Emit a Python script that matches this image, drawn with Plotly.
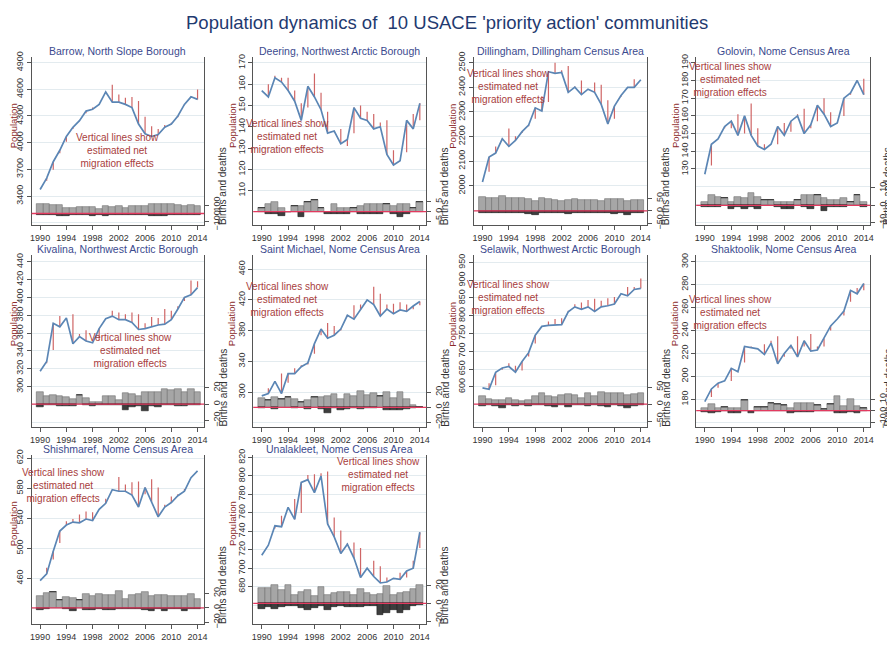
import plotly.graph_objects as go

years = [1990, 1991, 1992, 1993, 1994, 1995, 1996, 1997, 1998, 1999, 2000, 2001, 2002,
         2003, 2004, 2005, 2006, 2007, 2008, 2009, 2010, 2011, 2012, 2013, 2014]
year_ticks = [1990, 1994, 1998, 2002, 2006, 2010, 2014]

names = ["Barrow, North Slope Borough", "Deering, Northwest Arctic Borough",
         "Dillingham, Dillingham Census Area", "Golovin, Nome Census Area",
         "Kivalina, Northwest Arctic Borough", "Saint Michael, Nome Census Area",
         "Selawik, Northwest Arctic Borough", "Shaktoolik, Nome Census Area",
         "Shishmaref, Nome Census Area", "Unalakleet, Nome Census Area"]

# population, estimated net migration, births, deaths (negative)
barrow_pop = [3474, 3602, 3786, 3915, 4070, 4173, 4247, 4355, 4375, 4430, 4570, 4456, 4456,
              4430, 4394, 4210, 4100, 4070, 4092, 4173, 4210, 4300, 4430, 4515, 4486]
barrow_mig = [0, 30, 90, 35, 60, 20, 5, 25, -20, 0, 15, -195, -85, -75, -118, -258, -190,
              -115, -63, -25, -15, 15, 10, 5, -110]
barrow_births = [120, 112, 100, 100, 72, 72, 80, 80, 80, 60, 88, 80, 96, 72, 96, 96, 96, 112,
                 112, 112, 112, 100, 96, 104, 92]
barrow_deaths = [-20, -20, -20, -30, -30, -20, -20, -20, -30, -20, -30, -20, -20, -20, -20, -20,
                 -20, -30, -30, -30, -20, -20, -20, -20, -20]

deering_pop = [157, 154, 163, 161, 157, 152, 143, 159, 154, 148, 137, 138, 132, 134, 149, 144,
               143, 139, 140, 127, 122, 124, 143, 139, 151]
deering_mig = [0, -6, -1, -2, -6, -5, -8, 10, -11, -8, -10, 0, -7, 3, 12, -6, -4, -7, -2, -16,
               -7, 0, 15, -7, 8]
deering_births = [2, 4, 5, 2, 0, 3, 3, 5, 6, 2, 0, 4, 2, 2, 2, 3, 4, 4, 4, 4, 3, 4, 4, 2, 5]
deering_deaths = [0, -1, -1, -2, 0, 0, -3, 0, 0, 0, -1, -1, -1, -1, 0, -1, -1, -1, -1, 0, -1,
                  -3, -1, 0, 0]

dillingham_pop = [2015, 2117, 2133, 2191, 2160, 2184, 2220, 2247, 2317, 2304, 2464, 2457, 2461,
                  2380, 2401, 2371, 2393, 2380, 2331, 2251, 2324, 2367, 2400, 2400, 2431]
dillingham_mig = [0, 60, -27, 5, -73, -17, 5, 5, 44, -60, 123, -43, -9, -107, -3, -57, 0, -40,
                  -80, -97, 51, 5, 0, -33, 0]
dillingham_births = [57, 53, 53, 60, 50, 51, 50, 48, 40, 50, 47, 43, 40, 45, 47, 43, 45, 43, 40,
                     49, 47, 49, 40, 45, 43]
dillingham_deaths = [-8, -8, -8, -8, -8, -8, -8, -12, -15, -8, -8, -8, -10, -12, -8, -10, -8,
                     -10, -8, -8, -12, -8, -15, -8, -8]

golovin_pop = [127, 144, 147, 154, 157, 149, 160, 149, 143, 141, 144, 154, 149, 157, 160, 150,
               155, 166, 161, 154, 156, 170, 173, 180, 172]
golovin_mig = [0, 12, 0, 1, 4, -12, 10, -18, -10, -3, 0, 10, -7, 6, -1, -14, 2, 9, -9, -8, 0,
               10, 1, 1, -9]
golovin_births = [2, 6, 5, 4, 2, 5, 4, 7, 5, 3, 3, 2, 2, 2, 3, 6, 6, 6, 4, 3, 3, 4, 2, 6, 2]
golovin_deaths = [-1, -1, -1, 0, -2, -1, -2, -1, -2, 0, 0, -1, -2, -2, 0, -1, -2, 0, -3, -1, -1,
                  -1, 0, 0, -1]

kivalina_pop = [317, 328, 371, 367, 377, 348, 356, 351, 349, 365, 376, 379, 375, 375, 372, 364,
                365, 367, 369, 370, 375, 387, 400, 403, 411]
kivalina_mig = [0, 2, 30, -12, 0, -33, -3, -12, 0, 13, 0, -6, -8, -6, -11, -17, -6, -11, -8,
                -17, -10, -3, 4, -16, -7]
kivalina_births = [15, 10, 11, 10, 9, 6, 11, 8, 2, 3, 10, 10, 5, 13, 12, 10, 15, 15, 15, 18, 17,
                   19, 15, 19, 15]
kivalina_deaths = [-3, -1, -1, -2, -2, -2, 0, -1, -2, -1, -1, -1, -1, -7, -3, -2, -8, -2, -4,
                   -1, -1, -2, -2, -1, -1]

stmichael_pop = [295, 298, 314, 298, 324, 324, 333, 338, 363, 382, 370, 374, 382, 400, 395, 407,
                 420, 414, 399, 408, 402, 407, 405, 412, 418]
stmichael_mig = [0, -7, 2, -26, 12, -7, -2, 2, 13, 8, -20, -12, 2, 2, -18, -7, 0, -23, -29, -6,
                 -13, -10, -9, 4, 5]
stmichael_births = [12, 10, 13, 11, 14, 11, 7, 9, 14, 13, 15, 17, 11, 17, 15, 21, 16, 19, 15,
                    20, 12, 20, 11, 3, 0]
stmichael_deaths = [-1, 0, -2, 0, 0, -1, 0, -2, 0, -2, -7, -1, -3, -2, -1, -2, -1, -1, 0, -3,
                    -3, -4, -2, -1, 0]

selawik_pop = [597, 593, 641, 653, 657, 641, 671, 696, 745, 770, 773, 775, 775, 811, 825, 818,
               825, 812, 825, 828, 833, 862, 856, 874, 877]
selawik_mig = [0, -17, 37, 5, -9, -18, 25, 11, 23, 0, -11, -16, -18, -3, -7, -19, -19, -36,
               -17, -21, -20, 0, -25, -7, -28]
selawik_births = [24, 16, 13, 12, 19, 13, 8, 13, 24, 32, 24, 20, 26, 29, 26, 19, 32, 24, 37, 32,
                  32, 34, 27, 29, 32]
selawik_deaths = [-5, -3, -5, -10, -3, -7, -3, -5, -3, -3, -5, -8, -3, -8, -3, -3, -5, -3, -5,
                  -8, -3, -5, -10, -5, -3]

shaktoolik_pop = [178, 189, 194, 196, 207, 204, 226, 225, 224, 219, 229, 211, 220, 227, 217,
                  231, 222, 223, 233, 244, 250, 257, 275, 272, 281]
shaktoolik_mig = [0, 7, 4, 0, 11, 0, 14, -1, 0, -9, -2, -24, 3, 3, -18, 5, -15, -3, 7, 4, 0, 4,
                  10, -5, 6]
shaktoolik_births = [2, 6, 2, 3, 2, 2, 9, 0, 3, 3, 7, 6, 5, 2, 7, 7, 7, 5, 1, 6, 13, 4, 10, 4, 2]
shaktoolik_deaths = [-1, -2, -1, 0, -2, -2, 0, -2, 0, 0, 0, 0, 0, -2, -1, -1, -1, 0, 0, 0, -2,
                     -2, -1, -2, 0]

shishmaref_pop = [457, 466, 496, 523, 531, 535, 534, 539, 537, 552, 560, 578, 576, 576, 571,
                  555, 581, 562, 542, 555, 561, 570, 576, 594, 603]
shishmaref_mig = [0, -8, 11, 16, -5, -4, -11, -10, -11, 0, -6, 0, -19, -9, -17, -34, 9, -30,
                  -39, -3, -8, -2, -3, 0, 0]
shishmaref_births = [17, 21, 22, 11, 15, 14, 11, 19, 16, 19, 18, 18, 23, 13, 18, 19, 22, 17, 18,
                     18, 17, 16, 16, 19, 12]
shishmaref_deaths = [-3, -2, 0, 0, -1, -5, 0, -3, -3, -1, -3, -3, -2, -2, -1, -2, -3, -4, -2,
                     -5, -2, -1, -4, -1, -2]

unalakleet_pop = [714, 725, 746, 745, 766, 753, 793, 796, 782, 800, 748, 734, 716, 726, 711,
                  690, 700, 691, 684, 685, 689, 688, 697, 700, 739]
unalakleet_mig = [0, 0, 3, -12, 0, -22, 33, -5, -20, -3, -57, -21, -25, -1, -17, -32, 0, -17,
                  -18, -5, 0, -7, 7, -8, 17]
unalakleet_births = [17, 17, 21, 15, 21, 9, 13, 15, 8, 19, 9, 12, 13, 13, 9, 16, 12, 10, 11, 20,
                     9, 12, 13, 16, 21]
unalakleet_deaths = [-6, -4, -6, -4, -3, -3, -5, -7, -5, -3, -7, -4, -3, -4, -4, -4, -3, -3,
                     -13, -11, -8, -11, -8, -3, -2]

# left (population) tick labels and right (births/deaths) tick labels
pop_ticks = [[3400, 3700, 4000, 4300, 4600, 4900], [110, 120, 130, 140, 150, 160, 170],
             [2000, 2100, 2200, 2300, 2400, 2500], [130, 140, 150, 160, 170, 180, 190],
             [300, 320, 340, 360, 380, 400, 420, 440], [300, 340, 380, 420, 460],
             [600, 650, 700, 750, 800, 850, 900, 950], [180, 200, 220, 240, 260, 280, 300],
             [460, 500, 540, 580, 620], [680, 700, 720, 740, 760, 780, 800, 820]]
pop_grid_extra = [[3100], [100], [1900], [100, 110, 120], [260, 280], [260], [500, 550],
                  [160], [420], [660]]
bd_ticks = [[-100, 100], [-5, 0, 5], [-50, 0, 50], [-10, 0, 10], [-20, 0, 20], [-20, 0, 20],
            [-50, 0, 50], [-10, 0, 10], [-20, 0, 20], [-20, 0, 20]]

data = [
    (barrow_pop, barrow_mig, barrow_births, barrow_deaths),
    (deering_pop, deering_mig, deering_births, deering_deaths),
    (dillingham_pop, dillingham_mig, dillingham_births, dillingham_deaths),
    (golovin_pop, golovin_mig, golovin_births, golovin_deaths),
    (kivalina_pop, kivalina_mig, kivalina_births, kivalina_deaths),
    (stmichael_pop, stmichael_mig, stmichael_births, stmichael_deaths),
    (selawik_pop, selawik_mig, selawik_births, selawik_deaths),
    (shaktoolik_pop, shaktoolik_mig, shaktoolik_births, shaktoolik_deaths),
    (shishmaref_pop, shishmaref_mig, shishmaref_births, shishmaref_deaths),
    (unalakleet_pop, unalakleet_mig, unalakleet_births, unalakleet_deaths),
]

# ---------- layout configuration (page pixels) ----------
W, H = 895, 646
OFF = 8                      # page body margin
FW, FH = W - OFF, H - OFF    # figure size


def fx(px):
    return (px - OFF) / FW


def fy(py):
    return 1 - (py - OFF) / FH


cols_px = [(30.7, 204), (253.3, 427.3), (475, 649.3), (698.3, 873.3)]
rows_px = [(51.7, 223), (253.3, 428), (456.7, 629)]
pop_ranges = [[3072, 4963], [93.7, 172.8], [1839, 2524], [98.2, 193.3], [254.8, 447.5],
              [254.8, 478.4], [487.4, 970.8], [156, 305.8], [398.9, 624.3], [639.2, 822.8]]
bd_ranges = [[-144, 1912], [-7, 78.6], [-58, 618], [-11.5, 85.5], [-27.6, 182], [-25.4, 200],
             [-66.3, 437.7], [-14, 135.7], [-22.8, 212], [-23.7, 167.8]]
note_px = [(117, 147), (288, 133), (510, 82), (733, 75), (130, 350), (288, 299), (510, 296),
           (733, 312), (63, 488), (379, 477)]

FONT = "Liberation Sans, Arial, sans-serif"
LINE_BLUE = "#5b86b5"
MIG_RED = "#cf6565"
ZERO_RED = "#e33a5f"
GRID = "#e3ebef"
AXIS = "#555555"
TICKF = dict(family=FONT, size=9, color="#333333")

fig = go.Figure()
layout = {}
shapes = []
annotations = []

for i, (pop, mig, births, deaths) in enumerate(data):
    c, r = i % 4, i // 4
    xn = "" if i == 0 else str(i + 1)
    yn = "" if i == 0 else str(i + 1)
    y2n = str(i + 11)
    xref, yref, y2ref = "x" + xn, "y" + yn, "y" + y2n

    x0, x1 = cols_px[c]
    top, bot = rows_px[r]
    xdom = [fx(x0), fx(x1)]
    ydom = [fy(bot), fy(top)]

    # bars: births (positive) and deaths (negative)
    fig.add_trace(go.Bar(x=years, y=births, xaxis=xref, yaxis=y2ref, width=1,
                         marker=dict(color="#a6a6a6", line=dict(color="#6f6f6f", width=0.6)),
                         showlegend=False, hoverinfo="skip"))
    fig.add_trace(go.Bar(x=years, y=deaths, xaxis=xref, yaxis=y2ref, width=1,
                         marker=dict(color="#3d3d3d", line=dict(color="#1e1e1e", width=0.6)),
                         showlegend=False, hoverinfo="skip"))

    # vertical lines: from population to population without net migration
    vx, vy = [], []
    for yr, p, m in zip(years, pop, mig):
        if m != 0:
            vx += [yr, yr, None]
            vy += [p, p - m, None]
    fig.add_trace(go.Scatter(x=vx, y=vy, xaxis=xref, yaxis=yref, mode="lines",
                             line=dict(color=MIG_RED, width=1.2), showlegend=False,
                             hoverinfo="skip"))
    fig.add_trace(go.Scatter(x=years, y=pop, xaxis=xref, yaxis=yref, mode="lines",
                             line=dict(color=LINE_BLUE, width=1.7), showlegend=False))

    layout["xaxis" + xn] = dict(domain=xdom, anchor=yref, range=[1988.7, 2015.0],
                                tickmode="array", tickvals=year_ticks, ticks="outside",
                                ticklen=4, tickcolor=AXIS, showline=True, linecolor=AXIS,
                                linewidth=1, showgrid=False, zeroline=False, tickfont=TICKF)
    layout["yaxis" + yn] = dict(domain=ydom, anchor=xref, range=pop_ranges[i],
                                tickmode="array", tickvals=pop_ticks[i], tickangle=-90,
                                ticks="outside", ticklen=4, tickcolor=AXIS, showline=True,
                                linecolor=AXIS, linewidth=1, showgrid=True, gridcolor=GRID,
                                gridwidth=1, zeroline=False, tickfont=TICKF,
                                minor=dict(tickmode="array", tickvals=pop_grid_extra[i],
                                           showgrid=True, gridcolor=GRID, ticks=""))
    layout["yaxis" + y2n] = dict(overlaying=yref, anchor=xref, side="right",
                                 range=bd_ranges[i], tickmode="array", tickvals=bd_ticks[i],
                                 tickangle=-90, ticks="outside", ticklen=4, tickcolor=AXIS,
                                 showline=True, linecolor=AXIS, linewidth=1, showgrid=False,
                                 zeroline=False, tickfont=TICKF)

    # red zero line for births/deaths
    shapes.append(dict(type="line", xref=xref + " domain", yref=y2ref, x0=0, x1=1, y0=0, y1=0,
                       line=dict(color=ZERO_RED, width=1.3), layer="above"))

    # axis titles
    annotations.append(dict(text="Population", x=fx(max(x0 - 21, 12.5)), y=fy(top + 70),
                            xref="paper", yref="paper", showarrow=False, textangle=-90,
                            xanchor="center", yanchor="middle",
                            font=dict(family=FONT, size=9.5, color="#8b2a2a")))
    annotations.append(dict(text="Births and deaths", x=fx(min(x1 + 19, 891)), y=fy(bot - 40),
                            xref="paper", yref="paper", showarrow=False, textangle=-90,
                            xanchor="center", yanchor="middle",
                            font=dict(family=FONT, size=10, color="#333333")))

    # panel title
    annotations.append(dict(text=names[i], x=fx((x0 + x1) / 2), y=fy(top - 6.5),
                            xref="paper", yref="paper", showarrow=False, xanchor="center",
                            yanchor="middle", font=dict(family=FONT, size=10.5, color="#3b4a8e")))
    # note
    nx, ny = note_px[i]
    annotations.append(dict(text="Vertical lines show<br>estimated net<br>migration effects",
                            x=fx(nx), y=fy(ny), xref="paper", yref="paper",
                            showarrow=False, xanchor="center", yanchor="middle", align="center",
                            font=dict(family=FONT, size=10, color="#a83d3d")))

annotations.append(dict(text="Population dynamics of  10 USACE 'priority action' communities",
                        x=fx(W / 2), y=fy(17), xref="paper", yref="paper", showarrow=False,
                        xanchor="center", yanchor="middle",
                        font=dict(family=FONT, size=18.5, color="#1f3a70")))

fig.update_layout(**layout)
fig.update_layout(width=FW, height=FH, margin=dict(l=0, r=0, t=0, b=0),
                  paper_bgcolor="white", plot_bgcolor="white", barmode="relative",
                  bargap=0, shapes=shapes, annotations=annotations, showlegend=False)

fig.write_html("out.html")
